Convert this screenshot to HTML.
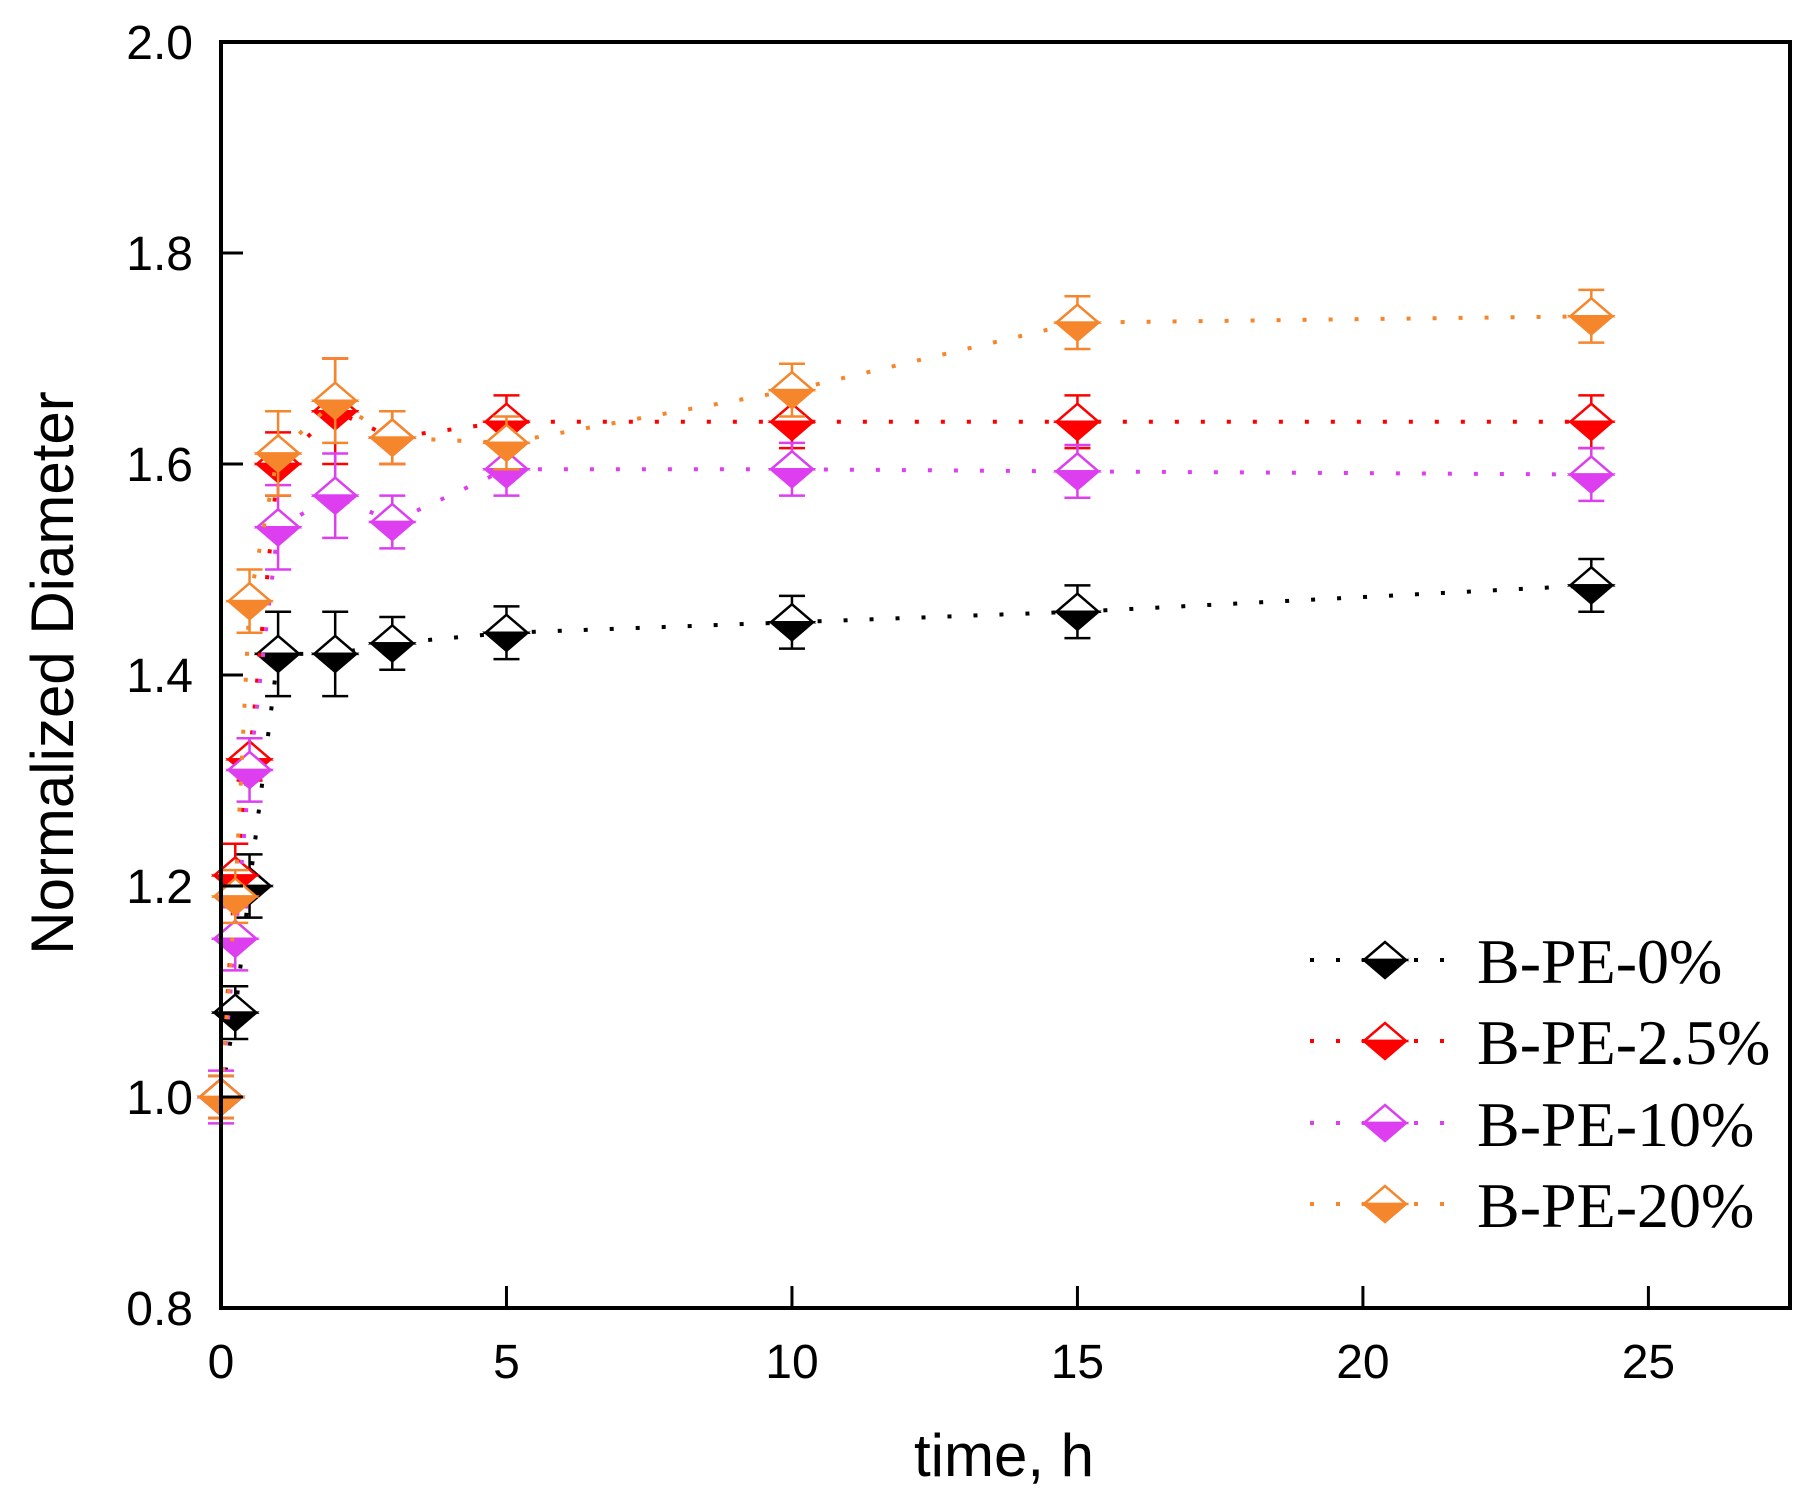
<!DOCTYPE html>
<html><head><meta charset="utf-8"><style>
html,body{margin:0;padding:0;background:#fff;}
svg{display:block;}
</style></head><body>
<svg id="chart" width="1817" height="1505" viewBox="0 0 1817 1505" xmlns="http://www.w3.org/2000/svg">
<g id="marks"></g>
<g id="axes"></g>
<g id="legend"></g>
</svg>
<script>
const times = [0, 0.25, 0.5, 1, 2, 3, 5, 10, 15, 24];
const seriesNames = ["B-PE-0%", "B-PE-2.5%", "B-PE-10%", "B-PE-20%"];
const seriesColors = ["#000000", "#ff0000", "#dd3ff0", "#f5862c"];
const valsBPE0 = [1.0, 1.08, 1.20, 1.42, 1.42, 1.43, 1.44, 1.45, 1.46, 1.485];
const errBPE0 = [0.02, 0.025, 0.03, 0.04, 0.04, 0.025, 0.025, 0.025, 0.025, 0.025];
const valsBPE25 = [1.0, 1.21, 1.32, 1.60, 1.65, 1.625, 1.64, 1.64, 1.64, 1.64];
const errBPE25 = [0.02, 0.03, 0.02, 0.03, 0.05, 0.025, 0.025, 0.025, 0.025, 0.025];
const valsBPE10 = [1.0, 1.15, 1.31, 1.54, 1.57, 1.545, 1.595, 1.595, 1.593, 1.59];
const errBPE10 = [0.025, 0.03, 0.03, 0.04, 0.04, 0.025, 0.025, 0.025, 0.025, 0.025];
const valsBPE20 = [1.0, 1.19, 1.47, 1.61, 1.66, 1.625, 1.62, 1.67, 1.734, 1.74];
const errBPE20 = [0.02, 0.025, 0.03, 0.04, 0.04, 0.025, 0.025, 0.025, 0.025, 0.025];
const xTicks = [0, 5, 10, 15, 20, 25];
const yTicks = [0.8, 1.0, 1.2, 1.4, 1.6, 1.8, 2.0];

const allVals = [valsBPE0, valsBPE25, valsBPE10, valsBPE20];
const allErrs = [errBPE0, errBPE25, errBPE10, errBPE20];
const L=221, R=1790, T=42, B=1308, XMAX=27.48;
const xS = t => L + t/XMAX*(R-L);
const yS = v => B - (v-0.8)/1.2*(B-T);
const NS="http://www.w3.org/2000/svg";
function mk(tag, attrs, parent){const e=document.createElementNS(NS,tag);for(const k in attrs)e.setAttribute(k,attrs[k]);parent.appendChild(e);return e;}
const marks=document.getElementById('marks'), axes=document.getElementById('axes'), legend=document.getElementById('legend');

function diamond(g, cx, cy, c){
  const hw=21, hh=18;
  const top=mk('path',{d:`M${cx-hw},${cy} L${cx},${cy-hh} L${cx+hw},${cy} Z`,fill:'#fff',stroke:c,'stroke-width':2.5},g);
  
  
  const bot=mk('path',{d:`M${cx-hw},${cy} L${cx},${cy+hh} L${cx+hw},${cy} Z`,fill:c,stroke:c,'stroke-width':2.5},g);
  
  
}

allVals.forEach((vals,si)=>{
  const c=seriesColors[si];
  const g=mk('g',{},marks);
  
  
  const pts=vals.map((v,i)=>xS(times[i])+','+yS(v)).join(' ');
  const ln=mk('polyline',{points:pts,fill:'none',stroke:c,'stroke-width':4,'stroke-dasharray':'4 22'},g);
  
  
  vals.forEach((v,i)=>{
    const x=xS(times[i]), e=allErrs[si][i];
    const y1=yS(v+e), y2=yS(v-e);
    const eb=mk('path',{d:`M${x},${y1} L${x},${y2} M${x-13},${y1} L${x+13},${y1} M${x-13},${y2} L${x+13},${y2}`,stroke:c,'stroke-width':2.5,fill:'none'},g);
    
    
    diamond(g,x,yS(v),c);
  });
});

// frame
const fr=mk('rect',{x:L,y:T,width:R-L,height:B-T,fill:'none',stroke:'#000','stroke-width':4},axes);


yTicks.forEach(v=>{
  const y=yS(v);
  const tk=mk('line',{x1:L,x2:L+22,y1:y,y2:y,stroke:'#000','stroke-width':3},axes);
  
  
  const t=mk('text',{x:193,y:y+17,'text-anchor':'end','font-family':'Liberation Sans, sans-serif','font-size':48,fill:'#000'},axes);
  t.textContent=v.toFixed(1);
  
  
});
xTicks.forEach(v=>{
  const x=xS(v);
  const tk=mk('line',{x1:x,x2:x,y1:B,y2:B-22,stroke:'#000','stroke-width':3},axes);
  
  
  const t=mk('text',{x:x,y:1378,'text-anchor':'middle','font-family':'Liberation Sans, sans-serif','font-size':48,fill:'#000'},axes);
  t.textContent=v;
  
  
});
const xt=mk('text',{x:1004,y:1476,'text-anchor':'middle','font-family':'Liberation Sans, sans-serif','font-size':60,fill:'#000'},axes);
xt.textContent='time, h';


const yt=mk('text',{x:0,y:0,'text-anchor':'middle','font-family':'Liberation Sans, sans-serif','font-size':60,fill:'#000',transform:'translate(73,673) rotate(-90)'},axes);
yt.textContent='Normalized Diameter';



const legY=[960,1041,1123,1204];
seriesNames.forEach((n,i)=>{
  const c=seriesColors[i], y=legY[i];
  const g=mk('g',{},legend);
  
  
  const l=mk('line',{x1:1310,x2:1462,y1:y,y2:y,stroke:c,'stroke-width':4,'stroke-dasharray':'4 22'},g);
  
  
  diamond(g,1385,y,c);
  const t=mk('text',{x:1477,y:y+23,'font-family':'Liberation Serif, serif','font-size':64,fill:'#000'},g);
  t.textContent=n;
  
  
});
</script>
</body></html>
